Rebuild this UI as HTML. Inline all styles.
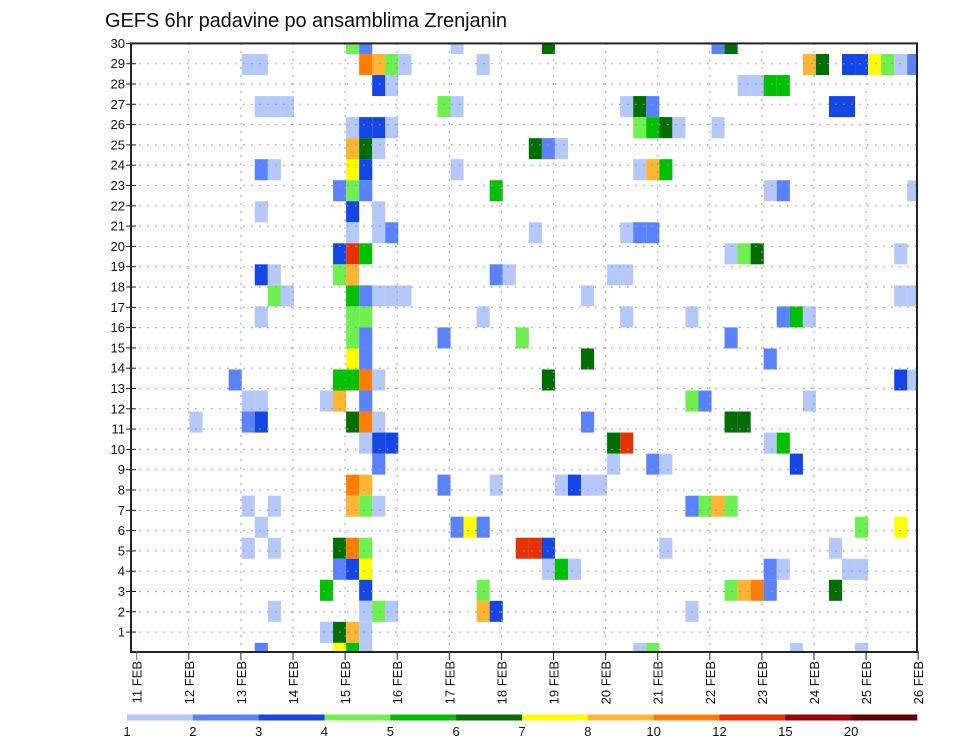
<!DOCTYPE html>
<html><head><meta charset="utf-8"><style>
html,body{margin:0;padding:0;background:#fff;}
svg{display:block;font-family:"Liberation Sans",sans-serif;}
</style></head><body>
<svg id="chart" width="960" height="742" viewBox="0 0 960 742">
<text x="105" y="27" font-size="20" textLength="402" fill="#111">GEFS 6hr padavine po ansamblima Zrenjanin</text>
<g id="cells"></g>
<g id="grid"></g>
<g id="axes"></g>
<g id="legend"></g>
</svg>
<script>
// ensemble member (cell band), 6-hour slot index from 11 FEB 00Z, precipitation mm
const cellMember = [
30,30,30,30,30,30,
29,29,29,29,29,29,29,29,29,29,29,29,29,29,29,
28,28,28,28,28,28,
27,27,27,27,27,27,27,27,27,27,
26,26,26,26,26,26,26,26,26,
25,25,25,25,25,25,
24,24,24,24,24,24,24,24,
23,23,23,23,23,23,23,
22,22,22,
21,21,21,21,21,21,21,
20,20,20,20,20,20,20,
19,19,19,19,19,19,19,19,
18,18,18,18,18,18,18,18,18,18,
17,17,17,17,17,17,17,17,17,
16,16,16,16,16,
15,15,15,15,
14,14,14,14,14,14,14,14,
13,13,13,13,13,13,13,13,
12,12,12,12,12,12,12,12,12,
11,11,11,11,11,11,11,
10,10,10,10,10,
9,9,9,9,9,9,9,9,
8,8,8,8,8,8,8,8,8,
7,7,7,7,7,7,
6,6,6,6,6,6,6,6,6,6,
5,5,5,5,5,5,5,5,5,5,
4,4,4,4,4,4,4,4,
3,3,3,3,3,3,3,
2,2,2,2,
1,1,1,1,1,1,1,1
];
const cellSlot = [
16,17,24,31,44,45,
8,9,17,18,19,20,26,51,52,54,55,56,57,58,59,
18,19,46,47,48,49,
9,10,11,23,24,37,38,39,53,54,
16,17,18,19,38,39,40,41,44,
16,17,18,30,31,32,
9,10,16,17,24,38,39,40,
15,16,17,27,48,49,59,
9,16,18,
16,18,19,30,37,38,39,
15,16,17,45,46,47,58,
9,10,15,16,27,28,36,37,
10,11,16,17,18,19,20,34,58,59,
9,16,17,26,37,42,49,50,51,
16,17,23,29,45,
16,17,34,48,
7,15,16,17,18,31,58,59,
8,9,14,15,17,42,43,51,
4,8,9,16,17,18,34,45,46,
17,18,19,36,37,48,49,
18,36,39,40,50,
16,17,23,27,32,33,34,35,
8,10,16,17,18,42,43,44,45,
9,24,25,26,55,58,
8,10,15,16,17,29,30,31,40,53,
15,16,17,31,32,33,48,49,54,55,
14,17,26,45,46,47,48,53,
10,17,18,19,26,27,42,
14,15,16,17,
9,15,16,17,38,39,50,55
];
const cellValue = [
4.5,2.5,1.5,6.5,2.5,6.5,
1.5,1.5,11,9,4.5,1.5,1.5,9,6.5,3.5,3.5,7.5,4.5,1.5,2.5,
3.5,1.5,1.5,1.5,5.5,5.5,
1.5,1.5,1.5,4.5,1.5,1.5,6.5,2.5,3.5,3.5,
1.5,3.5,3.5,1.5,4.5,5.5,6.5,1.5,1.5,
9,6.5,1.5,6.5,2.5,1.5,
2.5,1.5,7.5,3.5,1.5,1.5,9,5.5,
2.5,4.5,2.5,5.5,1.5,2.5,1.5,
1.5,3.5,1.5,
1.5,1.5,2.5,1.5,1.5,2.5,2.5,
3.5,13,5.5,1.5,4.5,6.5,1.5,
3.5,1.5,4.5,9,2.5,1.5,1.5,1.5,
4.5,1.5,5.5,2.5,1.5,1.5,1.5,1.5,1.5,1.5,
1.5,4.5,4.5,1.5,1.5,1.5,2.5,5.5,1.5,
4.5,2.5,2.5,4.5,2.5,
7.5,2.5,6.5,2.5,
2.5,5.5,5.5,11,1.5,6.5,3.5,1.5,
1.5,1.5,1.5,9,2.5,4.5,2.5,1.5,
1.5,2.5,3.5,6.5,11,1.5,2.5,6.5,6.5,
1.5,3.5,3.5,6.5,13,1.5,5.5,
2.5,1.5,2.5,1.5,3.5,
11,9,2.5,1.5,1.5,3.5,1.5,1.5,
1.5,1.5,9,4.5,1.5,2.5,4.5,9,4.5,
1.5,2.5,7.5,2.5,4.5,7.5,
1.5,1.5,6.5,11,4.5,13,13,3.5,1.5,1.5,
2.5,3.5,7.5,1.5,5.5,1.5,2.5,1.5,1.5,1.5,
5.5,3.5,4.5,4.5,9,11,2.5,6.5,
1.5,1.5,4.5,1.5,9,3.5,1.5,
1.5,6.5,9,1.5,
2.5,7.5,5.5,1.5,1.5,4.5,1.5,1.5
];
const levelValues = [1,2,3,4,5,6,7,8,10,12,15,20];
const levelLabels = ["1","2","3","4","5","6","7","8","10","12","15","20"];
const levelColors = ["#b4c8fa","#5a82fa","#1446e6","#6ef050","#00c000","#006e00","#ffff00","#ffb432","#ff7d00","#e63200","#a00000","#640000"];
const yTickLabels = [1,2,3,4,5,6,7,8,9,10,11,12,13,14,15,16,17,18,19,20,21,22,23,24,25,26,27,28,29,30];
const xDayLabels = ["11 FEB","12 FEB","13 FEB","14 FEB","15 FEB","16 FEB","17 FEB","18 FEB","19 FEB","20 FEB","21 FEB","22 FEB","23 FEB","24 FEB","25 FEB","26 FEB"];

const NS="http://www.w3.org/2000/svg";
const L=131,R=917,T=43.4,B=652;
function mk(tag,attrs,parent){const e=document.createElementNS(NS,tag);for(const k in attrs)e.setAttribute(k,attrs[k]);parent.appendChild(e);return e;}
function xDay(d){return 136.7+52.1*d;}
function xSlot(c){return 137.3+13.05*c;}
function yRow(k){return T+20.3*(30-k);}
function yBandTop(m){return 33+(30-m)*21.03;}
function colorFor(v){let i=0;for(let j=0;j<levelValues.length;j++){if(v>=levelValues[j])i=j;}return levelColors[i];}

const cells=document.getElementById('cells');
for(let i=0;i<cellMember.length;i++){
  let x0=xSlot(cellSlot[i]),x1=x0+13.1;
  let y0=yBandTop(cellMember[i]),y1=y0+21.03;
  x0=Math.max(x0,L);x1=Math.min(x1,R);y0=Math.max(y0,T);y1=Math.min(y1,B);
  if(x1<=x0||y1<=y0)continue;
  const r=mk('rect',{x:x0.toFixed(2),y:y0.toFixed(2),width:(x1-x0).toFixed(2),height:(y1-y0).toFixed(2),fill:colorFor(cellValue[i])},cells);
  
  
}

const grid=document.getElementById('grid');
for(let k=0;k<=30;k++){
  const y=yRow(k);
  if(k===30||k===0)continue;
  const l=mk('line',{x1:L,x2:R,y1:y,y2:y,stroke:"#999","stroke-width":1.2,"stroke-dasharray":"1.5 6.5"},grid);
  
  
}
for(let d=1;d<15;d++){
  const x=xDay(d);
  const l=mk('line',{x1:x,x2:x,y1:T,y2:B,stroke:"#999","stroke-width":1.2,"stroke-dasharray":"1.5 6.5"},grid);
  
  
}

const axes=document.getElementById('axes');
const frame=mk('rect',{x:L,y:T,width:R-L,height:B-T,fill:"none",stroke:"#222","stroke-width":2},axes);


for(const k of yTickLabels){
  const y=yRow(k);
  const t=mk('line',{x1:126,x2:136,y1:y,y2:y,stroke:"#222","stroke-width":1},axes);
  
  
  const tx=mk('text',{x:125,y:y+4.5,"font-size":13,"text-anchor":"end",fill:"#111"},axes);
  tx.textContent=String(k);
  
  
}
for(let d=0;d<xDayLabels.length;d++){
  const x=xDay(d);
  const t=mk('line',{x1:x,x2:x,y1:B-1,y2:B+8,stroke:d===0?"#d04040":"#222","stroke-width":1},axes);
  
  
  const tx=mk('text',{x:0,y:0,"font-size":13,"text-anchor":"end",fill:"#111",transform:"translate("+(x+5)+",661) rotate(-90)"},axes);
  tx.textContent=xDayLabels[d];
  
  
}

const legend=document.getElementById('legend');
const segW=(917-127)/levelColors.length;
for(let i=0;i<levelColors.length;i++){
  const r=mk('rect',{x:127+i*segW,y:714.5,width:segW+0.3,height:6,fill:levelColors[i]},legend);
  
  
  const tx=mk('text',{x:127+i*segW,y:736,"font-size":13,"text-anchor":"middle",fill:"#111"},legend);
  tx.textContent=levelLabels[i];
  
  
}
</script>
</body></html>
